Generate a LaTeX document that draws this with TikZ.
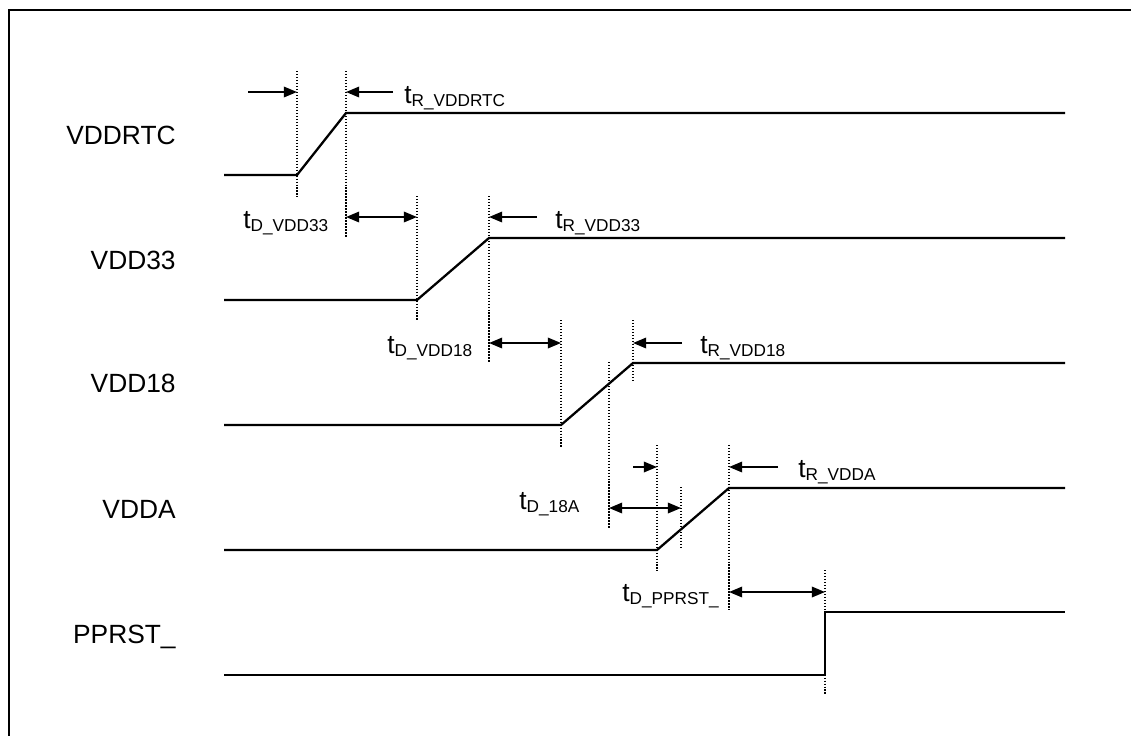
\documentclass[tikz,border=0pt]{standalone}
\usepackage{fontspec}
\setmainfont{Liberation Sans}
\usetikzlibrary{arrows.meta}
\newcommand{\tsig}[1]{t\raisebox{-0.12em}{\fontsize{9.8}{10}\selectfont #1}}

\begin{document}
\begin{tikzpicture}[x=0.02cm,y=-0.02cm,>={Triangle[length=7.5pt,width=6pt]},
    font=\fontsize{15}{17}\selectfont,
    every node/.style={inner sep=0pt},
    wave/.style={line width=1.3pt},
    guide/.style={densely dotted,line width=0.7pt},
    dim/.style={line width=1pt}]
    \useasboundingbox (0,0) rectangle (1131,735);

    % Frame (only top and left edges fall inside the page)
    \draw[line width=1.1pt] (9,740) -- (9,10) -- (1140,10);

    % Signal names
    \node[anchor=base east] (nRTC) at (176,144) {VDDRTC};
    \node[anchor=base east] (n33) at (176,269) {VDD33};
    \node[anchor=base east] (n18) at (176,392) {VDD18};
    \node[anchor=base east] (nA) at (176,518) {VDDA};
    \node[anchor=base east] (nRST) at (176,643) {PPRST\_};

    % Waveforms
    \draw[wave] (224,175) -- (297,175) -- (346,113) -- (1065,113);
    \draw[wave] (224,300) -- (417,300) -- (489,238) -- (1065,238);
    \draw[wave] (224,425) -- (561,425) -- (633,363) -- (1065,363);
    \draw[wave] (224,550) -- (657,550) -- (729,488) -- (1065,488);
    \draw[wave] (224,675) -- (825,675) -- (825,612) -- (1065,612);

    % Dotted guides
    \draw[guide] (297,71) -- (297,197);
    \draw[guide] (346,71) -- (346,237);
    \draw[guide] (417,196) -- (417,320);
    \draw[guide] (489,196) -- (489,362);
    \draw[guide] (561,320) -- (561,447);
    \draw[guide] (633,320) -- (633,382);
    \draw[guide] (609,362) -- (609,528);
    \draw[guide] (657,445) -- (657,571);
    \draw[guide] (681,487) -- (681,548);
    \draw[guide] (729,445) -- (729,610);
    \draw[guide] (825,570) -- (825,695);

    % Rise times
    \draw[dim,->] (248,92) -- (297,92);
    \draw[dim,->] (393,92) -- (346,92);
    \draw[dim,->] (537,217) -- (489,217);
    \draw[dim,->] (682,343) -- (633,343);
    \draw[dim,->] (633,467) -- (657,467);
    \draw[dim,->] (778,467) -- (729,467);
    \node[anchor=base west] (tRrtc) at (404,103) {\tsig{R\_VDDRTC}};
    \node[anchor=base west] (tR33) at (555,228) {\tsig{R\_VDD33}};
    \node[anchor=base west] (tR18) at (700,353) {\tsig{R\_VDD18}};
    \node[anchor=base west] (tRA) at (798,477) {\tsig{R\_VDDA}};

    % Delays
    \draw[dim,<->] (346,217) -- (417,217);
    \draw[dim,<->] (489,343) -- (561,343);
    \draw[dim,<->] (609,508) -- (681,508);
    \draw[dim,<->] (729,592) -- (825,592);
    \node[anchor=base west] (tD33) at (243,228) {\tsig{D\_VDD33}};
    \node[anchor=base west] (tD18) at (387,353) {\tsig{D\_VDD18}};
    \node[anchor=base west] (tD18A) at (519,509) {\tsig{D\_18A}};
    \node[anchor=base west] (tDRST) at (622,601) {\tsig{D\_PPRST\_}};
\end{tikzpicture}
\end{document}
